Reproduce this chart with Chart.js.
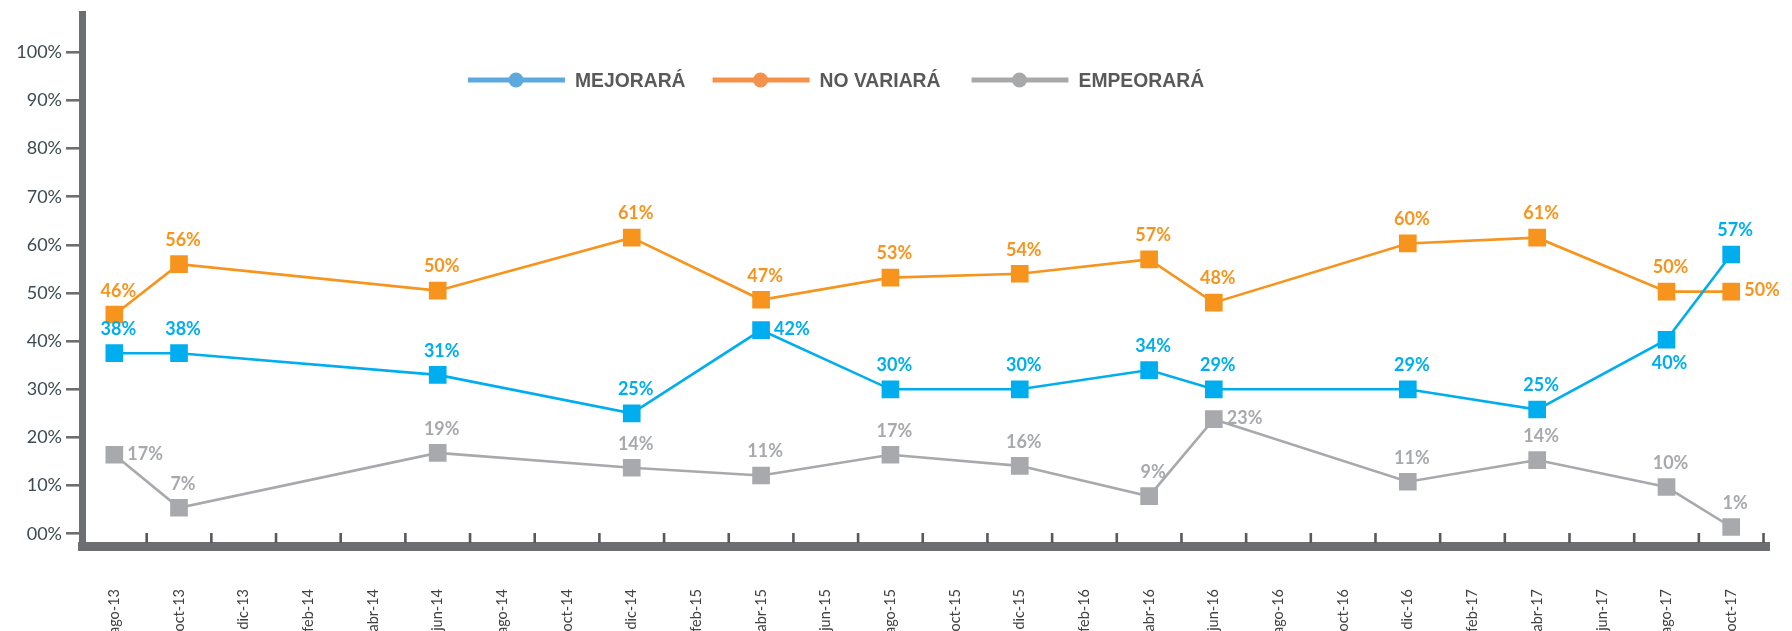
<!DOCTYPE html>
<html>
<head>
<meta charset="utf-8">
<script src="https://cdn.jsdelivr.net/npm/chart.js@4.4.1/dist/chart.umd.min.js"></script>
<style>
  html, body { margin: 0; padding: 0; background: #fff; }
</style>
</head>
<body>
<canvas id="myChart" width="1792" height="631"></canvas>
<script>
// fecha de cada medición
const surveyDates = ['ago-13', 'oct-13', 'jun-14', 'dic-14', 'abr-15', 'ago-15', 'dic-15', 'abr-16', 'jun-16', 'dic-16', 'abr-17', 'ago-17', 'oct-17'];

// valores tal como se ven dibujados, y el porcentaje que se imprime
const mejoraValues = [37.5, 37.5, 33, 25, 42.3, 30, 30, 34, 30, 30, 25.8, 40.3, 58];
const mejoraLabels = [38, 38, 31, 25, 42, 30, 30, 34, 29, 29, 25, 40, 57];
const noVariaValues = [45.5, 56, 50.5, 61.5, 48.6, 53.2, 54, 57, 48, 60.3, 61.5, 50.3, 50.3];
const noVariaLabels = [46, 56, 50, 61, 47, 53, 54, 57, 48, 60, 61, 50, 50];
const empeoraValues = [16.4, 5.4, 16.8, 13.7, 12.1, 16.4, 14.1, 7.8, 23.8, 10.8, 15.3, 9.7, 1.4];
const empeoraLabels = [17, 7, 19, 14, 11, 17, 16, 9, 23, 11, 14, 10, 1];

const xTickLabels = ['ago-13', 'oct-13', 'dic-13', 'feb-14', 'abr-14', 'jun-14', 'ago-14', 'oct-14', 'dic-14',
  'feb-15', 'abr-15', 'jun-15', 'ago-15', 'oct-15', 'dic-15', 'feb-16', 'abr-16', 'jun-16', 'ago-16', 'oct-16',
  'dic-16', 'feb-17', 'abr-17', 'jun-17', 'ago-17', 'oct-17'];
const yTicks = [0, 10, 20, 30, 40, 50, 60, 70, 80, 90, 100];

// where each percentage goes relative to its square
const mejoraPos = ['top', 'top', 'top', 'top', 'right', 'top', 'top', 'top', 'top', 'top', 'top', 'bottom', 'top'];
const noVariaPos = ['top', 'top', 'top', 'top', 'top', 'top', 'top', 'top', 'top', 'top', 'top', 'top', 'right'];
const empeoraPos = ['right', 'top', 'top', 'top', 'top', 'top', 'top', 'top', 'right', 'top', 'top', 'top', 'top'];

const monthNames = ['ene', 'feb', 'mar', 'abr', 'may', 'jun', 'jul', 'ago', 'sep', 'oct', 'nov', 'dic'];
function monthIndex(s) { // ago-13 -> 0
  const [m, y] = s.split('-');
  return (Number(y) - 13) * 12 + monthNames.indexOf(m) - 7;
}

function series(values) {
  return values.map((v, i) => ({ x: monthIndex(surveyDates[i]), y: v }));
}

const data = {
  datasets: [
    { label: 'MEJORARÁ', data: series(mejoraValues), borderColor: '#00aeef', backgroundColor: '#00aeef',
      legendColor: '#5ca9dd', texts: mejoraLabels, pos: mejoraPos },
    { label: 'NO VARIARÁ', data: series(noVariaValues), borderColor: '#f7941d', backgroundColor: '#f7941d',
      legendColor: '#f4914a', texts: noVariaLabels, pos: noVariaPos },
    { label: 'EMPEORARÁ', data: series(empeoraValues), borderColor: '#a7a9ac', backgroundColor: '#a7a9ac',
      legendColor: '#a8a9aa', texts: empeoraLabels, pos: empeoraPos }
  ]
};
data.datasets.forEach(ds => {
  ds.borderWidth = 2.6;
  ds.pointStyle = 'rect';
  ds.pointRadius = 12.5;
  ds.pointBorderWidth = 0;
  ds.tension = 0;
});

// short upward tick marks on the x axis, between the labels
const xTickMarks = {
  id: 'xTickMarks',
  beforeDatasetsDraw(chart) {
    const { ctx, chartArea: { bottom }, scales: { x } } = chart;
    ctx.save();
    ctx.strokeStyle = '#58595b';
    ctx.lineWidth = 2.6;
    for (let v = 1; v <= x.max; v += 2) {
      const px = x.getPixelForValue(v);
      ctx.beginPath();
      ctx.moveTo(px, bottom - 3);
      ctx.lineTo(px, bottom - 13);
      ctx.stroke();
    }
    ctx.restore();
  }
};

// percentage labels next to every square
const pointLabels = {
  id: 'pointLabels',
  afterDatasetsDraw(chart) {
    const { ctx } = chart;
    ctx.save();
    ctx.font = 'bold 18px Lato, "Open Sans", sans-serif';
    ctx.textBaseline = 'middle';
    chart.data.datasets.forEach((ds, di) => {
      const meta = chart.getDatasetMeta(di);
      ctx.fillStyle = ds.borderColor;
      meta.data.forEach((pt, i) => {
        const txt = ds.texts[i] + '%';
        const p = ds.pos[i];
        if (p === 'right') {
          ctx.textAlign = 'left';
          ctx.fillText(txt, pt.x + 13, pt.y - 1);
        } else if (p === 'bottom') {
          ctx.textAlign = 'center';
          ctx.fillText(txt, pt.x + 3, pt.y + 23);
        } else {
          ctx.textAlign = 'center';
          ctx.fillText(txt, pt.x + 4, pt.y - 24);
        }
      });
    });
    ctx.restore();
  }
};

// legend drawn inside the plot, line + dot + bold caption
const lineLegend = {
  id: 'lineLegend',
  afterDraw(chart) {
    const { ctx } = chart;
    const gaps = [27, 31, 0];
    let x0 = 468;
    const y0 = 80;
    ctx.save();
    ctx.font = 'bold 21px "Liberation Sans", Arial, sans-serif';
    ctx.textBaseline = 'middle';
    ctx.textAlign = 'left';
    chart.data.datasets.forEach((ds, i) => {
      ctx.strokeStyle = ds.legendColor;
      ctx.fillStyle = ds.legendColor;
      ctx.lineWidth = 5;
      ctx.beginPath();
      ctx.moveTo(x0, y0);
      ctx.lineTo(x0 + 97, y0);
      ctx.stroke();
      ctx.beginPath();
      ctx.arc(x0 + 48, y0, 7.5, 0, Math.PI * 2);
      ctx.fill();
      // narrower caption, like the condensed face in the original
      ctx.fillStyle = '#58595b';
      ctx.save();
      ctx.translate(x0 + 107, y0 + 1);
      ctx.scale(0.92, 1);
      ctx.fillText(ds.label, 0, 0);
      ctx.restore();
      x0 += 107 + ctx.measureText(ds.label).width * 0.92 + gaps[i];
    });
    ctx.restore();
  }
};

const config = {
  type: 'line',
  data,
  options: {
    responsive: false,
    animation: false,
    layout: { padding: { top: 14, right: 18, left: 0, bottom: 0 } },
    plugins: {
      legend: { display: false },
      tooltip: { enabled: false }
    },
    scales: {
      x: {
        type: 'linear',
        min: -1,
        max: 51.2,
        afterBuildTicks: s => { s.ticks = xTickLabels.map(l => ({ value: monthIndex(l) })); },
        afterFit: s => { s.height = 85; },
        ticks: {
          autoSkip: false,
          minRotation: 90,
          maxRotation: 90,
          padding: 43,
          color: '#414042',
          font: { family: 'Lato', size: 14.5 },
          callback: (v, i) => xTickLabels[i]
        },
        grid: { display: false, drawTicks: false },
        border: { color: '#6d6e71', width: 9 }
      },
      y: {
        min: -2.55,
        max: 107.8,
        afterBuildTicks: s => { s.ticks = yTicks.map(v => ({ value: v })); },
        afterFit: s => { s.width = 82; },
        ticks: {
          padding: 4,
          color: '#3c4a52',
          font: { family: 'Lato', size: 18 },
          callback: v => v === 0 ? '00%' : v + '%'
        },
        grid: { drawOnChartArea: false, drawTicks: true, tickLength: 16, lineWidth: 2.6, color: '#6d6e71' },
        border: { color: '#6d6e71', width: 7 }
      }
    }
  },
  plugins: [xTickMarks, pointLabels, lineLegend]
};

const myChart = new Chart(document.getElementById('myChart'), config);
</script>
</body>
</html>
